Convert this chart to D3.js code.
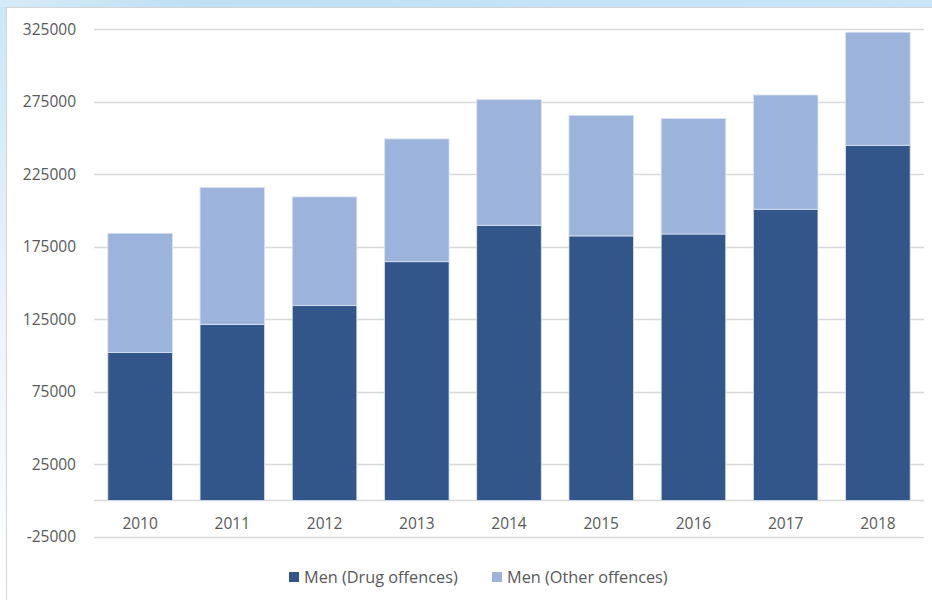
<!DOCTYPE html>
<html>
<head>
<meta charset="utf-8">
<script src="https://cdn.jsdelivr.net/npm/d3@7"></script>
<style>
  html, body { margin: 0; padding: 0; background: #ffffff; }
  svg { display: block; }
  text { font-family: "Open Sans", "Noto Sans", sans-serif; }
</style>
</head>
<body>
<div id="chart"></div>
<script>
const years = ["2010", "2011", "2012", "2013", "2014", "2015", "2016", "2017", "2018"];
const drugOffences = [102000, 121500, 134400, 164700, 189800, 182500, 183800, 200900, 245000];
const otherOffences = [82300, 94300, 75000, 84700, 86700, 83200, 79600, 78800, 78000];
const seriesNames = ["Men (Drug offences)", "Men (Other offences)"];
const seriesColors = ["#32558a", "#9cb3dc"];
const yTicks = [-25000, 25000, 75000, 125000, 175000, 225000, 275000, 325000];
const yDomain = [-25000, 325000];

const W = 932, H = 600;
const svg = d3.select("#chart").append("svg").attr("width", W).attr("height", H);

// frame background
const defs = svg.append("defs");
const gTop = defs.append("linearGradient").attr("id", "gTop").attr("x1", 0).attr("x2", 1).attr("y1", 0).attr("y2", 0);
gTop.append("stop").attr("offset", "0").attr("stop-color", "#d6ebf8");
gTop.append("stop").attr("offset", "0.2").attr("stop-color", "#bfe0f4");
gTop.append("stop").attr("offset", "1").attr("stop-color", "#c8e6f8");
const gLeft = defs.append("linearGradient").attr("id", "gLeft").attr("x1", 0).attr("x2", 0).attr("y1", 0).attr("y2", 1);
gLeft.append("stop").attr("offset", "0").attr("stop-color", "#cbe6f7");
gLeft.append("stop").attr("offset", "0.6").attr("stop-color", "#eef6fc");
gLeft.append("stop").attr("offset", "1").attr("stop-color", "#ffffff");

svg.append("rect").attr("x", 0).attr("y", 0).attr("width", 7).attr("height", H).attr("fill", "url(#gLeft)");
svg.append("rect").attr("x", 0).attr("y", 0).attr("width", W).attr("height", 7).attr("fill", "url(#gTop)");
svg.append("path").attr("d", `M6.5,${H} V7.5 H${W}`).attr("fill", "none").attr("stroke", "#d4d4d4").attr("stroke-width", 1);

const plotLeft = 94, plotRight = 924;
const x = d3.scaleBand().domain(years).range([plotLeft, plotRight]).paddingInner(0.3).paddingOuter(0.15);
const y = d3.scaleLinear().domain(yDomain).range([536.7, 29.3]);

// gridlines
const grid = svg.append("g");
grid.selectAll("line").data(yTicks.concat([0])).join("line")
  .attr("x1", plotLeft).attr("x2", plotRight)
  .attr("y1", d => Math.round(y(d)) + 0.5).attr("y2", d => Math.round(y(d)) + 0.5)
  .attr("stroke", "#d9d9d9").attr("stroke-width", 1.3);

// y axis labels
const yAxis = d3.axisLeft(y).tickValues(yTicks).tickSize(0).tickPadding(0).tickFormat(d => String(d));
const yg = svg.append("g").attr("transform", `translate(76,0)`).call(yAxis);
yg.select(".domain").remove();
yg.selectAll("text").attr("font-size", 15.5).attr("fill", "#595959")
  .attr("font-family", "'Open Sans', 'Noto Sans', sans-serif");

// stacked bars
const stackData = years.map((yr, i) => ({ year: yr, drug: drugOffences[i], other: otherOffences[i] }));
const stack = d3.stack().keys(["drug", "other"])(stackData);
svg.append("g").selectAll("g").data(stack).join("g")
  .attr("fill", (d, i) => seriesColors[i])
  .selectAll("rect").data(d => d).join("rect")
  .attr("x", d => x(d.data.year))
  .attr("width", x.bandwidth())
  .attr("y", d => y(d[1]))
  .attr("height", d => y(d[0]) - y(d[1]))
  .attr("stroke", "#dbe4f3").attr("stroke-width", 0.8);

// x axis labels
const xAxis = d3.axisBottom(x).tickSize(0).tickPadding(0);
const xg = svg.append("g").attr("transform", `translate(0,${y(0)})`).call(xAxis);
xg.select(".domain").remove();
xg.selectAll("text").attr("font-size", 15.5).attr("fill", "#595959").attr("dy", "1.85em")
  .attr("font-family", "'Open Sans', 'Noto Sans', sans-serif");

// legend
const legendItems = [{ x: 289, tx: 304 }, { x: 492, tx: 507 }];
const lg = svg.append("g");
legendItems.forEach((it, i) => {
  lg.append("rect").attr("x", it.x).attr("y", 572).attr("width", 10).attr("height", 10).attr("fill", seriesColors[i]);
  lg.append("text").attr("x", it.tx).attr("y", 577).attr("dy", "0.35em")
    .attr("font-size", 16.3).attr("fill", "#595959").text(seriesNames[i]);
});
</script>
</body>
</html>
